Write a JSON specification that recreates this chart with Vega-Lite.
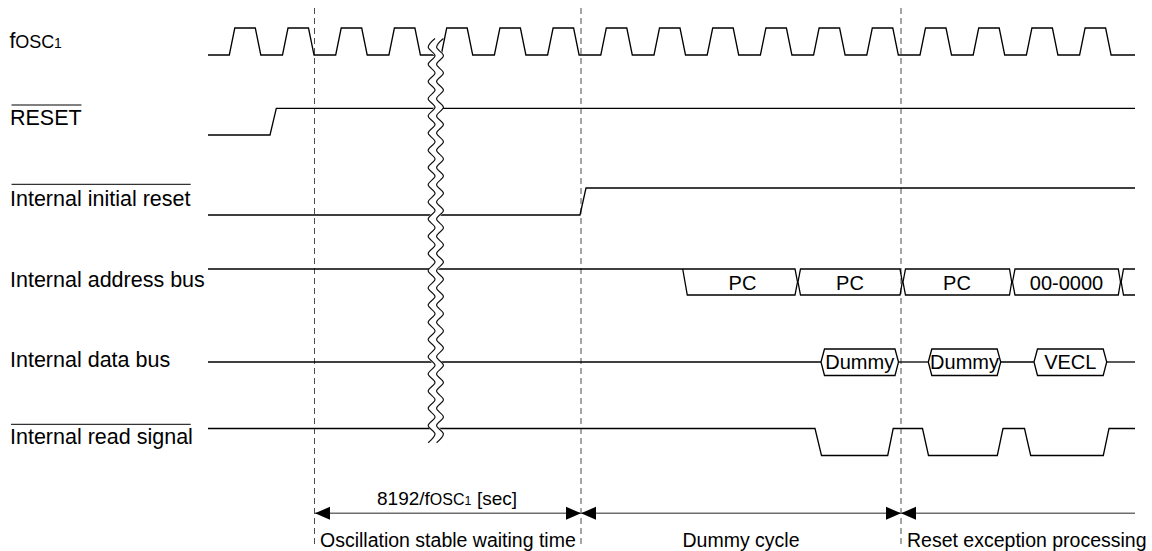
{
  "$schema": "https://vega.github.io/schema/vega-lite/v6.json",
  "width": 1152,
  "height": 551,
  "autosize": {"type": "fit", "contains": "padding"},
  "padding": 0,
  "background": "white",
  "config": {"view": {"stroke": null}, "text": {"font": "Liberation Sans", "color": "#000"}},
  "datasets": {
    "dashes": [{"x": 314.5, "y": 8, "y2": 548}, {"x": 581, "y": 8, "y2": 548}, {"x": 901, "y": 8, "y2": 548}],
    "levels": [
      {"g": "fosc", "x": 208, "y": 55},
      {"g": "fosc", "x": 229.3, "y": 55}, {"g": "fosc", "x": 234.8, "y": 28}, {"g": "fosc", "x": 255.3, "y": 28}, {"g": "fosc", "x": 260.8, "y": 55},
      {"g": "fosc", "x": 282.5, "y": 55}, {"g": "fosc", "x": 288, "y": 28}, {"g": "fosc", "x": 308.5, "y": 28}, {"g": "fosc", "x": 314, "y": 55},
      {"g": "fosc", "x": 335.7, "y": 55}, {"g": "fosc", "x": 341.2, "y": 28}, {"g": "fosc", "x": 361.7, "y": 28}, {"g": "fosc", "x": 367.2, "y": 55},
      {"g": "fosc", "x": 388.9, "y": 55}, {"g": "fosc", "x": 394.4, "y": 28}, {"g": "fosc", "x": 414.9, "y": 28}, {"g": "fosc", "x": 420.4, "y": 55},
      {"g": "fosc", "x": 441.2, "y": 55}, {"g": "fosc", "x": 446.7, "y": 28}, {"g": "fosc", "x": 467.2, "y": 28}, {"g": "fosc", "x": 472.7, "y": 55},
      {"g": "fosc", "x": 494.4, "y": 55}, {"g": "fosc", "x": 499.9, "y": 28}, {"g": "fosc", "x": 520.4, "y": 28}, {"g": "fosc", "x": 525.9, "y": 55},
      {"g": "fosc", "x": 547.6, "y": 55}, {"g": "fosc", "x": 553.1, "y": 28}, {"g": "fosc", "x": 573.6, "y": 28}, {"g": "fosc", "x": 579.1, "y": 55},
      {"g": "fosc", "x": 600.8, "y": 55}, {"g": "fosc", "x": 606.3, "y": 28}, {"g": "fosc", "x": 626.8, "y": 28}, {"g": "fosc", "x": 632.3, "y": 55},
      {"g": "fosc", "x": 654, "y": 55}, {"g": "fosc", "x": 659.5, "y": 28}, {"g": "fosc", "x": 680, "y": 28}, {"g": "fosc", "x": 685.5, "y": 55},
      {"g": "fosc", "x": 707.2, "y": 55}, {"g": "fosc", "x": 712.7, "y": 28}, {"g": "fosc", "x": 733.2, "y": 28}, {"g": "fosc", "x": 738.7, "y": 55},
      {"g": "fosc", "x": 760.4, "y": 55}, {"g": "fosc", "x": 765.9, "y": 28}, {"g": "fosc", "x": 786.4, "y": 28}, {"g": "fosc", "x": 791.9, "y": 55},
      {"g": "fosc", "x": 813.6, "y": 55}, {"g": "fosc", "x": 819.1, "y": 28}, {"g": "fosc", "x": 839.6, "y": 28}, {"g": "fosc", "x": 845.1, "y": 55},
      {"g": "fosc", "x": 866.8, "y": 55}, {"g": "fosc", "x": 872.3, "y": 28}, {"g": "fosc", "x": 892.8, "y": 28}, {"g": "fosc", "x": 898.3, "y": 55},
      {"g": "fosc", "x": 920, "y": 55}, {"g": "fosc", "x": 925.5, "y": 28}, {"g": "fosc", "x": 946, "y": 28}, {"g": "fosc", "x": 951.5, "y": 55},
      {"g": "fosc", "x": 973.2, "y": 55}, {"g": "fosc", "x": 978.7, "y": 28}, {"g": "fosc", "x": 999.2, "y": 28}, {"g": "fosc", "x": 1004.7, "y": 55},
      {"g": "fosc", "x": 1026.4, "y": 55}, {"g": "fosc", "x": 1031.9, "y": 28}, {"g": "fosc", "x": 1052.4, "y": 28}, {"g": "fosc", "x": 1057.9, "y": 55},
      {"g": "fosc", "x": 1079.6, "y": 55}, {"g": "fosc", "x": 1085.1, "y": 28}, {"g": "fosc", "x": 1105.6, "y": 28}, {"g": "fosc", "x": 1111.1, "y": 55},
      {"g": "fosc", "x": 1135, "y": 55},
      {"g": "reset", "x": 208, "y": 135}, {"g": "reset", "x": 270, "y": 135}, {"g": "reset", "x": 276.3, "y": 108.3}, {"g": "reset", "x": 1135, "y": 108.3},
      {"g": "iir", "x": 208, "y": 215}, {"g": "iir", "x": 580, "y": 215}, {"g": "iir", "x": 586, "y": 188}, {"g": "iir", "x": 1135, "y": 188},
      {"g": "read", "x": 208, "y": 428.5}, {"g": "read", "x": 815, "y": 428.5}, {"g": "read", "x": 821.5, "y": 455.5}, {"g": "read", "x": 887.7, "y": 455.5},
      {"g": "read", "x": 893.2, "y": 428.5}, {"g": "read", "x": 922.5, "y": 428.5}, {"g": "read", "x": 928.5, "y": 455.5}, {"g": "read", "x": 997.3, "y": 455.5},
      {"g": "read", "x": 1003, "y": 428.5}, {"g": "read", "x": 1024.5, "y": 428.5}, {"g": "read", "x": 1030.7, "y": 455.5}, {"g": "read", "x": 1103.3, "y": 455.5},
      {"g": "read", "x": 1109, "y": 428.5}, {"g": "read", "x": 1135, "y": 428.5},
      {"g": "d0", "x": 208, "y": 362}, {"g": "d0", "x": 821, "y": 362},
      {"g": "d1", "x": 898.5, "y": 362}, {"g": "d1", "x": 928.3, "y": 362},
      {"g": "d2", "x": 1000.7, "y": 362}, {"g": "d2", "x": 1034, "y": 362},
      {"g": "d3", "x": 1106.7, "y": 362}, {"g": "d3", "x": 1135, "y": 362}
    ],
    "shapes": [
      {"g": "a1", "i": 0, "x": 208, "y": 269}, {"g": "a1", "i": 1, "x": 795, "y": 269}, {"g": "a1", "i": 2, "x": 797.5, "y": 282}, {"g": "a1", "i": 3, "x": 795, "y": 295}, {"g": "a1", "i": 4, "x": 687.3, "y": 295}, {"g": "a1", "i": 5, "x": 682.7, "y": 269},
      {"g": "a2", "i": 0, "x": 798, "y": 282}, {"g": "a2", "i": 1, "x": 800.5, "y": 269}, {"g": "a2", "i": 2, "x": 900, "y": 269}, {"g": "a2", "i": 3, "x": 902.3, "y": 282}, {"g": "a2", "i": 4, "x": 900, "y": 295}, {"g": "a2", "i": 5, "x": 800.5, "y": 295}, {"g": "a2", "i": 6, "x": 798, "y": 282},
      {"g": "a3", "i": 0, "x": 903, "y": 282}, {"g": "a3", "i": 1, "x": 905.5, "y": 269}, {"g": "a3", "i": 2, "x": 1009.5, "y": 269}, {"g": "a3", "i": 3, "x": 1011.7, "y": 282}, {"g": "a3", "i": 4, "x": 1009.5, "y": 295}, {"g": "a3", "i": 5, "x": 905.5, "y": 295}, {"g": "a3", "i": 6, "x": 903, "y": 282},
      {"g": "a4", "i": 0, "x": 1012.5, "y": 282}, {"g": "a4", "i": 1, "x": 1015, "y": 269}, {"g": "a4", "i": 2, "x": 1118.3, "y": 269}, {"g": "a4", "i": 3, "x": 1120.5, "y": 282}, {"g": "a4", "i": 4, "x": 1118.3, "y": 295}, {"g": "a4", "i": 5, "x": 1015, "y": 295}, {"g": "a4", "i": 6, "x": 1012.5, "y": 282},
      {"g": "a5", "i": 0, "x": 1135, "y": 269}, {"g": "a5", "i": 1, "x": 1123.5, "y": 269}, {"g": "a5", "i": 2, "x": 1121.2, "y": 282}, {"g": "a5", "i": 3, "x": 1123.5, "y": 295}, {"g": "a5", "i": 4, "x": 1135, "y": 295},
      {"g": "h1", "i": 0, "x": 821, "y": 362}, {"g": "h1", "i": 1, "x": 824.5, "y": 349}, {"g": "h1", "i": 2, "x": 895, "y": 349}, {"g": "h1", "i": 3, "x": 898.5, "y": 362}, {"g": "h1", "i": 4, "x": 895, "y": 375.5}, {"g": "h1", "i": 5, "x": 824.5, "y": 375.5}, {"g": "h1", "i": 6, "x": 821, "y": 362},
      {"g": "h2", "i": 0, "x": 928.3, "y": 362}, {"g": "h2", "i": 1, "x": 931.8, "y": 349}, {"g": "h2", "i": 2, "x": 997.2, "y": 349}, {"g": "h2", "i": 3, "x": 1000.7, "y": 362}, {"g": "h2", "i": 4, "x": 997.2, "y": 375.5}, {"g": "h2", "i": 5, "x": 931.8, "y": 375.5}, {"g": "h2", "i": 6, "x": 928.3, "y": 362},
      {"g": "h3", "i": 0, "x": 1034, "y": 362}, {"g": "h3", "i": 1, "x": 1037.5, "y": 349}, {"g": "h3", "i": 2, "x": 1103.2, "y": 349}, {"g": "h3", "i": 3, "x": 1106.7, "y": 362}, {"g": "h3", "i": 4, "x": 1103.2, "y": 375.5}, {"g": "h3", "i": 5, "x": 1037.5, "y": 375.5}, {"g": "h3", "i": 6, "x": 1034, "y": 362}
    ],
    "wave": [
      {"x": 439.2, "y": 38.5}, {"x": 432.4, "y": 47.1}, {"x": 439.2, "y": 55.7}, {"x": 432.4, "y": 64.3},
      {"x": 439.2, "y": 72.9}, {"x": 432.4, "y": 81.5}, {"x": 439.2, "y": 90.1}, {"x": 432.4, "y": 98.7},
      {"x": 439.2, "y": 107.3}, {"x": 432.4, "y": 115.9}, {"x": 439.2, "y": 124.5}, {"x": 432.4, "y": 133.1},
      {"x": 439.2, "y": 141.7}, {"x": 432.4, "y": 150.3}, {"x": 439.2, "y": 158.9}, {"x": 432.4, "y": 167.5},
      {"x": 439.2, "y": 176.1}, {"x": 432.4, "y": 184.7}, {"x": 439.2, "y": 193.3}, {"x": 432.4, "y": 201.9},
      {"x": 439.2, "y": 210.5}, {"x": 432.4, "y": 219.1}, {"x": 439.2, "y": 227.7}, {"x": 432.4, "y": 236.3},
      {"x": 439.2, "y": 244.9}, {"x": 432.4, "y": 253.5}, {"x": 439.2, "y": 262.1}, {"x": 432.4, "y": 270.7},
      {"x": 439.2, "y": 279.3}, {"x": 432.4, "y": 287.9}, {"x": 439.2, "y": 296.5}, {"x": 432.4, "y": 305.1},
      {"x": 439.2, "y": 313.7}, {"x": 432.4, "y": 322.3}, {"x": 439.2, "y": 330.9}, {"x": 432.4, "y": 339.5},
      {"x": 439.2, "y": 348.1}, {"x": 432.4, "y": 356.7}, {"x": 439.2, "y": 365.3}, {"x": 432.4, "y": 373.9},
      {"x": 439.2, "y": 382.5}, {"x": 432.4, "y": 391.1}, {"x": 439.2, "y": 399.7}, {"x": 432.4, "y": 408.3},
      {"x": 439.2, "y": 416.9}, {"x": 432.4, "y": 425.5}, {"x": 439.2, "y": 434.1}, {"x": 432.4, "y": 442.7}
    ],
    "overlines": [
      {"x": 11.5, "x2": 81.5, "y": 105},
      {"x": 11.5, "x2": 190.7, "y": 184.3},
      {"x": 11, "x2": 190.7, "y": 424.3}
    ],
    "spans": [
      {"x": 315, "x2": 581, "y": 513.3},
      {"x": 581, "x2": 901, "y": 513.3},
      {"x": 901, "x2": 1135, "y": 513.3}
    ],
    "heads": [
      {"x": 315, "y": 513.3, "dir": "L"},
      {"x": 581, "y": 513.3, "dir": "R"},
      {"x": 581, "y": 513.3, "dir": "L"},
      {"x": 901, "y": 513.3, "dir": "R"},
      {"x": 901, "y": 513.3, "dir": "L"}
    ],
    "labels": [
      {"t": "f", "x": 9.5, "y": 48.3},
      {"t": "RESET", "x": 10, "y": 125},
      {"t": "Internal initial reset", "x": 10, "y": 206},
      {"t": "Internal address bus", "x": 10, "y": 286.7},
      {"t": "Internal data bus", "x": 10, "y": 366.7},
      {"t": "Internal read signal", "x": 10, "y": 444}
    ],
    "labelSub": [{"t": "OSC", "x": 15.3, "y": 48.3}],
    "labelSub1": [{"t": "1", "x": 54, "y": 48.3}],
    "busText": [
      {"t": "PC", "x": 742.5, "y": 289.5},
      {"t": "PC", "x": 850, "y": 289.5},
      {"t": "PC", "x": 957, "y": 289.5},
      {"t": "00-0000", "x": 1066.5, "y": 289.5},
      {"t": "Dummy", "x": 859.7, "y": 369.3},
      {"t": "Dummy", "x": 964.5, "y": 369.3},
      {"t": "VECL", "x": 1070.3, "y": 369.3}
    ],
    "note": [
      {"t": "8192/f", "x": 377, "y": 505},
      {"t": "[sec]", "x": 477, "y": 505}
    ],
    "noteSub": [{"t": "OSC", "x": 429.8, "y": 505}],
    "noteSub1": [{"t": "1", "x": 464.5, "y": 505}],
    "phases": [
      {"t": "Oscillation stable waiting time", "x": 320, "y": 547},
      {"t": "Reset exception processing", "x": 907, "y": 547}
    ],
    "phaseMid": [{"t": "Dummy cycle", "x": 741, "y": 547}]
  },
  "encoding": {
    "x": {"field": "x", "type": "quantitative", "scale": {"domain": [0, 1152], "nice": false, "zero": false}, "axis": null},
    "y": {"field": "y", "type": "quantitative", "scale": {"domain": [0, 551], "nice": false, "zero": false, "reverse": true}, "axis": null}
  },
  "layer": [
    {
      "data": {"name": "dashes"},
      "mark": {"type": "rule", "color": "#4d4d4d", "strokeWidth": 1, "strokeDash": [6, 4]},
      "encoding": {"y2": {"field": "y2"}}
    },
    {
      "data": {"name": "levels"},
      "mark": {"type": "line", "color": "#000000", "strokeWidth": 1.3},
      "encoding": {"detail": {"field": "g", "type": "nominal"}}
    },
    {
      "data": {"name": "shapes"},
      "mark": {"type": "line", "color": "#000000", "strokeWidth": 1.3},
      "encoding": {"detail": {"field": "g", "type": "nominal"}, "order": {"field": "i", "type": "quantitative"}}
    },
    {
      "data": {"name": "wave"},
      "mark": {"type": "line", "color": "#ffffff", "strokeWidth": 8, "strokeCap": "butt", "interpolate": "cardinal"},
      "encoding": {"order": {"field": "y", "type": "quantitative"}}
    },
    {
      "data": {"name": "wave"},
      "mark": {"type": "line", "color": "#111111", "strokeWidth": 1.2, "interpolate": "cardinal", "xOffset": -4.2},
      "encoding": {"order": {"field": "y", "type": "quantitative"}}
    },
    {
      "data": {"name": "wave"},
      "mark": {"type": "line", "color": "#111111", "strokeWidth": 1.2, "interpolate": "cardinal", "xOffset": 4.2},
      "encoding": {"order": {"field": "y", "type": "quantitative"}}
    },
    {
      "data": {"name": "overlines"},
      "mark": {"type": "rule", "color": "#000000", "strokeWidth": 1},
      "encoding": {"x2": {"field": "x2"}}
    },
    {
      "data": {"name": "spans"},
      "mark": {"type": "rule", "color": "#6e6e6e", "strokeWidth": 1.4},
      "encoding": {"x2": {"field": "x2"}}
    },
    {
      "data": {"name": "heads"},
      "mark": {"type": "point", "filled": true, "opacity": 1, "color": "#000000", "size": 225, "strokeWidth": 0},
      "encoding": {
        "shape": {"field": "dir", "type": "nominal", "scale": {"domain": ["L", "R"], "range": ["M0,0L2,-0.87L2,0.87Z", "M0,0L-2,-0.87L-2,0.87Z"]}, "legend": null}
      }
    },
    {
      "data": {"name": "labels"},
      "mark": {"type": "text", "fontSize": 21.5, "align": "left", "baseline": "alphabetic"},
      "encoding": {"text": {"field": "t"}}
    },
    {
      "data": {"name": "labelSub"},
      "mark": {"type": "text", "fontSize": 18, "align": "left", "baseline": "alphabetic"},
      "encoding": {"text": {"field": "t"}}
    },
    {
      "data": {"name": "labelSub1"},
      "mark": {"type": "text", "fontSize": 14, "align": "left", "baseline": "alphabetic"},
      "encoding": {"text": {"field": "t"}}
    },
    {
      "data": {"name": "busText"},
      "mark": {"type": "text", "fontSize": 20, "align": "center", "baseline": "alphabetic"},
      "encoding": {"text": {"field": "t"}}
    },
    {
      "data": {"name": "note"},
      "mark": {"type": "text", "fontSize": 19, "align": "left", "baseline": "alphabetic"},
      "encoding": {"text": {"field": "t"}}
    },
    {
      "data": {"name": "noteSub"},
      "mark": {"type": "text", "fontSize": 16, "align": "left", "baseline": "alphabetic"},
      "encoding": {"text": {"field": "t"}}
    },
    {
      "data": {"name": "noteSub1"},
      "mark": {"type": "text", "fontSize": 12.4, "align": "left", "baseline": "alphabetic"},
      "encoding": {"text": {"field": "t"}}
    },
    {
      "data": {"name": "phases"},
      "mark": {"type": "text", "fontSize": 19.5, "align": "left", "baseline": "alphabetic"},
      "encoding": {"text": {"field": "t"}}
    },
    {
      "data": {"name": "phaseMid"},
      "mark": {"type": "text", "fontSize": 19.5, "align": "center", "baseline": "alphabetic"},
      "encoding": {"text": {"field": "t"}}
    }
  ]
}
